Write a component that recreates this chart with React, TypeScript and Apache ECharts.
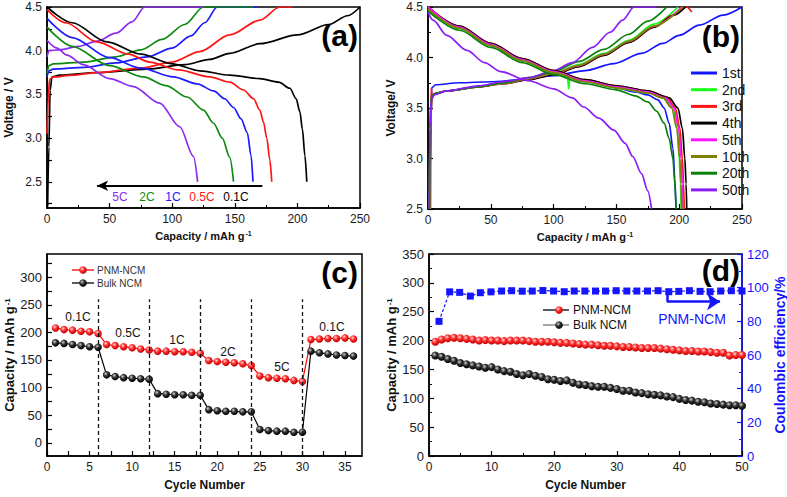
import React, { useEffect, useRef } from 'react';
import * as echarts from 'echarts';

const NARROW = '"Liberation Sans Narrow", "Arial Narrow", "Liberation Sans", Arial, sans-serif';
const SANS = '"Liberation Sans", Arial, Helvetica, sans-serif';

// ---------------- Panel (a): rate charge/discharge profiles ----------------
const aRateNames = ['0.1C', '0.5C', '1C', '2C', '5C'];
const aColors = ['#000000', '#ff1414', '#1a1aff', '#0f8a0f', '#8c2cf0'];
const aCharge01 = [[0.5, 2.22], [1.5, 2.9], [2.5, 3.55], [4, 3.7], [10, 3.72], [40, 3.75], [80, 3.79], [110, 3.84], [130, 3.9], [146, 3.97], [170, 4.08], [200, 4.18], [225, 4.3], [240, 4.4], [250, 4.5]];
const aCharge05 = [[0, 3.05], [1, 3.45], [2, 3.67], [5, 3.7], [20, 3.72], [40, 3.75], [75, 3.8], [100, 3.87], [122, 3.99], [146, 4.18], [170, 4.35], [186, 4.5], [196, 4.5]];
const aCharge1 = [[0, 3.7], [1.5, 3.77], [5, 3.79], [30, 3.81], [55, 3.86], [80, 3.93], [100, 4.03], [115, 4.17], [126, 4.32], [136, 4.5], [168, 4.5]];
const aCharge2 = [[0, 3.74], [1.5, 3.83], [5, 3.85], [30, 3.87], [55, 3.93], [75, 4.01], [92, 4.13], [110, 4.3], [125, 4.5], [165, 4.5]];
const aCharge5 = [[0, 3.93], [1.5, 4.0], [10, 4.01], [25, 4.05], [40, 4.11], [55, 4.2], [68, 4.33], [78, 4.5], [125, 4.5]];
const aDis01 = [[0, 4.5], [20, 4.32], [48, 4.1], [75, 3.96], [100, 3.85], [122, 3.77], [146, 3.72], [170, 3.68], [185, 3.64], [194, 3.57], [199, 3.45], [202, 3.3], [204, 3.1], [206, 2.8], [207.5, 2.5]];
const aDis05 = [[0, 4.47], [15, 4.32], [40, 4.1], [65, 3.96], [82, 3.87], [105, 3.78], [130, 3.7], [146, 3.64], [157, 3.55], [165, 3.45], [170, 3.32], [173, 3.18], [175.5, 3.0], [178, 2.75], [179.5, 2.5]];
const aDis1 = [[0, 4.37], [20, 4.15], [50, 3.92], [75, 3.8], [101, 3.7], [120, 3.62], [133, 3.54], [142, 3.45], [149, 3.35], [155, 3.22], [160, 3.06], [163, 2.8], [164.5, 2.5]];
const aDis2 = [[0, 4.27], [20, 4.05], [50, 3.83], [77, 3.7], [95, 3.6], [112, 3.47], [125, 3.32], [133, 3.17], [140, 3.0], [146, 2.78], [149, 2.5]];
const aDis5 = [[0, 4.12], [8, 4.03], [16, 3.95], [29, 3.84], [50, 3.68], [69, 3.59], [90, 3.4], [106, 3.13], [117, 2.79], [120.3, 2.5]];
const aCharge = [aCharge01, aCharge05, aCharge1, aCharge2, aCharge5];
const aDischarge = [aDis01, aDis05, aDis1, aDis2, aDis5];
const aArrowFrom = [172, 2.455];
const aArrowTo = [40, 2.455];
const aYLabels = [2.5, 3.0, 3.5, 4.0, 4.5];

// ---------------- Panel (b): cycling profiles ----------------
const bCycleNames = ['1st', '2nd', '3rd', '4th', '5th', '10th', '20th', '50th'];
const bColors = ['#1414ff', '#14ff14', '#ff1414', '#000000', '#ff14ff', '#808000', '#0a800a', '#8a1cf5'];
const bCh1 = [[1.5, 2.5], [2, 3.2], [3, 3.7], [6, 3.73], [25, 3.75], [50, 3.76], [75, 3.78], [100, 3.82], [125, 3.87], [148, 3.94], [170, 4.04], [187, 4.14], [200, 4.22], [216, 4.32], [235, 4.42], [250, 4.5]];
const bCh2 = [[1, 2.5], [1.5, 3.2], [2.5, 3.6], [5, 3.64], [15, 3.67], [40, 3.71], [60, 3.75], [80, 3.79], [100, 3.84], [120, 3.93], [140, 4.04], [160, 4.17], [180, 4.33], [199, 4.5]];
const bCh3 = [[2, 2.5], [2.3, 3.3], [2.6, 3.7], [3, 3.62], [5, 3.64], [15, 3.67], [40, 3.71], [60, 3.74], [80, 3.78], [100, 3.83], [120, 3.91], [140, 4.02], [160, 4.15], [180, 4.3], [195, 4.42], [206, 4.5], [210, 4.45]];
const bCh4 = [[1.5, 2.5], [2, 3.3], [3, 3.6], [5, 3.64], [15, 3.67], [40, 3.71], [60, 3.74], [80, 3.78], [100, 3.83], [120, 3.91], [140, 4.02], [160, 4.15], [180, 4.3], [196, 4.42], [205, 4.5]];
const bCh5 = [[1.5, 2.5], [2, 3.3], [3, 3.6], [5, 3.64], [15, 3.67], [40, 3.71], [60, 3.74], [80, 3.79], [100, 3.84], [120, 3.92], [140, 4.03], [160, 4.16], [180, 4.31], [202, 4.5]];
const bCh10 = [[1.5, 2.5], [2, 3.3], [3, 3.6], [5, 3.64], [15, 3.67], [40, 3.71], [60, 3.74], [80, 3.79], [100, 3.84], [120, 3.92], [140, 4.03], [160, 4.16], [180, 4.31], [203, 4.5]];
const bCh20 = [[1, 2.5], [1.5, 3.3], [2.5, 3.6], [5, 3.64], [15, 3.67], [40, 3.71], [60, 3.75], [80, 3.8], [100, 3.86], [120, 3.96], [140, 4.08], [160, 4.23], [175, 4.36], [190, 4.5]];
const bCh50 = [[1, 2.5], [1.5, 3.3], [2.5, 3.58], [5, 3.63], [15, 3.67], [40, 3.72], [60, 3.76], [80, 3.8], [100, 3.87], [115, 3.95], [131, 4.1], [145, 4.25], [155, 4.37], [164, 4.5], [182, 4.5]];
const bDis1 = [[0, 4.49], [25, 4.29], [50, 4.12], [75, 3.97], [100, 3.85], [125, 3.76], [150, 3.7], [165, 3.66], [175, 3.63], [183, 3.58], [188, 3.5], [192, 3.35], [195, 3.1], [196.5, 2.8], [197.5, 2.5]];
const bDis2 = [[0, 4.47], [25, 4.29], [50, 4.12], [75, 3.97], [100, 3.85], [111, 3.81], [112, 3.69], [113, 3.8], [125, 3.76], [150, 3.7], [175, 3.65], [188, 3.6], [195, 3.5], [198.5, 3.3], [200, 3.0], [201, 2.75], [201.5, 2.5]];
const bDis3 = [[0, 4.5], [25, 4.31], [50, 4.14], [75, 3.99], [100, 3.87], [125, 3.78], [150, 3.72], [175, 3.67], [190, 3.61], [197, 3.5], [200.5, 3.3], [202.5, 3.0], [203.5, 2.75], [204, 2.5]];
const bDis4 = [[0, 4.5], [25, 4.31], [50, 4.14], [75, 3.99], [100, 3.87], [125, 3.78], [150, 3.72], [175, 3.67], [192, 3.6], [199, 3.5], [202.5, 3.3], [204.5, 3.0], [205.5, 2.75], [206, 2.5]];
const bDis5 = [[0, 4.5], [25, 4.3], [50, 4.13], [75, 3.98], [100, 3.86], [125, 3.77], [150, 3.71], [175, 3.66], [189, 3.6], [196, 3.5], [199.5, 3.3], [201.5, 3.0], [202.5, 2.75], [203, 2.5]];
const bDis10 = [[0, 4.48], [25, 4.29], [50, 4.12], [75, 3.97], [100, 3.85], [125, 3.76], [150, 3.7], [175, 3.65], [187, 3.6], [194, 3.5], [198, 3.3], [200.5, 3.0], [201.5, 2.75], [202, 2.5]];
const bDis20 = [[0, 4.46], [25, 4.27], [50, 4.1], [75, 3.95], [100, 3.83], [125, 3.74], [150, 3.68], [165, 3.62], [175, 3.56], [182, 3.47], [188, 3.35], [192, 3.2], [195, 3.0], [196.5, 2.75], [197.5, 2.5]];
const bDis50 = [[0, 4.45], [4, 4.37], [15, 4.22], [31, 4.07], [45, 3.95], [58, 3.86], [80, 3.77], [100, 3.69], [115, 3.6], [124, 3.51], [136, 3.4], [148, 3.28], [157, 3.15], [163, 3.02], [170, 2.85], [175, 2.68], [178, 2.5]];
const bCharge = [bCh1, bCh2, bCh3, bCh4, bCh5, bCh10, bCh20, bCh50];
const bDischarge = [bDis1, bDis2, bDis3, bDis4, bDis5, bDis10, bDis20, bDis50];

// ---------------- Panel (c): rate capability ----------------
const cCycles = [1, 2, 3, 4, 5, 6, 7, 8, 9, 10, 11, 12, 13, 14, 15, 16, 17, 18, 19, 20, 21, 22, 23, 24, 25, 26, 27, 28, 29, 30, 31, 32, 33, 34, 35, 36];
const cPNM = [208, 205, 204, 202, 201, 198, 178, 176, 174, 172, 170, 168, 166, 166, 165, 165, 164, 162, 149, 147, 146, 145, 143, 140, 121, 118, 117, 116, 113, 111, 187, 188, 189, 189, 190, 188];
const cBulk = [181, 180, 178, 176, 174, 173, 123, 120, 118, 117, 116, 115, 89, 88, 87, 87, 86, 86, 60, 58, 57, 57, 56, 56, 24, 22, 21, 21, 19, 19, 166, 163, 161, 159, 158, 157];
const cBoundaries = [6, 12, 18, 24, 30];
const cRateLabels = ['0.1C', '0.5C', '1C', '2C', '5C', '0.1C'];
const cYLabels = [0, 50, 100, 150, 200, 250, 300];
const cXLabels = [0, 5, 10, 15, 20, 25, 30, 35];

// ---------------- Panel (d): cycling stability ----------------
const dCycles = Array.from({ length: 50 }, (_, i) => i + 1);
const dPNM = [198, 202, 204, 205, 204, 203, 202, 200, 201, 200, 200, 199, 200, 200, 200, 199, 198, 198, 198, 197, 196, 196, 195, 194, 193, 193, 192, 191, 191, 190, 189, 189, 188, 187, 187, 187, 186, 185, 184, 183, 182, 182, 181, 181, 180, 179, 179, 174, 175, 175];
const dBulk = [174, 172, 168, 165, 161, 159, 157, 155, 153, 154, 150, 147, 146, 142, 140, 142, 139, 137, 133, 132, 130, 131, 127, 124, 123, 121, 120, 120, 118, 116, 113, 113, 110, 109, 107, 106, 105, 103, 102, 99, 97, 96, 94, 93, 91, 90, 89, 88, 88, 87];
const dEffX = [1.6, 3.3, 4.9, 6.6, 8.2, 9.9, 11.6, 13.2, 14.9, 16.5, 18.2, 19.9, 21.6, 23.2, 24.9, 26.6, 28.2, 29.9, 31.6, 33.2, 34.9, 36.6, 38.3, 39.9, 41.6, 43.3, 44.9, 46.6, 48.3, 50];
const dEff = [80, 97.5, 97.2, 95, 97, 97.5, 98, 98.2, 97.9, 98, 98.3, 98, 97.6, 98, 98, 98, 98, 98.2, 98, 98, 98, 98.2, 97.6, 97.8, 98.2, 97.8, 97.6, 98, 98.2, 98];
const dArrow = [[38, 97.6], [38, 91.7], [46.5, 91.7]];

const seriesNames = ['PNM-NCM', 'Bulk NCM'];

// ---------------- styling helpers ----------------
const redBall = {
  type: 'radial', x: 0.38, y: 0.35, r: 0.65,
  colorStops: [{ offset: 0, color: '#ffd8d8' }, { offset: 0.45, color: '#ff3030' }, { offset: 1, color: '#c00000' }],
};
const blackBall = {
  type: 'radial', x: 0.38, y: 0.35, r: 0.65,
  colorStops: [{ offset: 0, color: '#d0d0d0' }, { offset: 0.45, color: '#333333' }, { offset: 1, color: '#000000' }],
};

function nameStyle(size: number, family: string, color = '#111') {
  return {
    fontWeight: 'bold', fontSize: size, fontFamily: family, color,
    rich: { sup: { fontSize: Math.round(size * 0.62), fontWeight: 'bold', fontFamily: family, color, verticalAlign: 'top', padding: [0, 0, 0, 1] } },
  };
}

function axis(o: any) {
  const color = o.color || '#000';
  const ax: any = {
    type: 'value',
    gridIndex: o.grid,
    min: o.min,
    max: o.max,
    position: o.position,
    axisLine: { show: true, onZero: false, lineStyle: { color, width: 1.5 } },
    axisTick: { show: true, inside: true, length: 5, lineStyle: { color, width: 1.2 } },
    axisLabel: { color: o.labelColor || '#1a1a1a', fontSize: o.fs, fontFamily: NARROW, margin: 5, showMinLabel: true, showMaxLabel: true },
    splitLine: { show: false },
    name: o.name,
    nameLocation: 'middle',
    nameGap: o.gap,
    nameTextStyle: nameStyle(o.nameSize, o.nameFamily, o.labelColor || '#111'),
  };
  if (o.decimals != null) {
    ax.axisLabel.formatter = (v: number) => v.toFixed(o.decimals);
  }
  if (o.interval != null) {
    ax.interval = o.interval;
    ax.minorTick = { show: true, splitNumber: 2, length: 3, lineStyle: { color, width: 1 } };
  }
  if (o.labels) {
    ax.axisLabel.customValues = o.labels;
    ax.axisTick.customValues = o.ticks || o.labels;
  }
  return ax;
}

function curve(xi: number, data: number[][], color: string, name?: string, extra: any = {}) {
  return {
    type: 'line', name, xAxisIndex: xi, yAxisIndex: xi,
    data, symbol: 'none', smooth: 0.3, smoothMonotone: 'x',
    lineStyle: { color, width: 1.7 }, itemStyle: { color },
    silent: true, z: 2,
    ...extra,
  };
}

function text(str: string, x: number, y: number, size: number, color = '#111', align = 'center', weight = 'normal', family = NARROW) {
  return {
    type: 'text', x, y, silent: true, z: 50,
    style: { text: str, fill: color, fontSize: size, fontWeight: weight, fontFamily: family, align, verticalAlign: 'middle' },
  };
}

function buildOption() {
  const series: any[] = [];

  // (a)
  aCharge.forEach((d, i) => {
    const extra: any = {};
    if (i === 0) {
      extra.markLine = {
        silent: true, symbol: ['none', 'none'], label: { show: false },
        lineStyle: { color: '#000', width: 2, type: 'solid' },
        data: [[{ coord: aArrowFrom }, { coord: aArrowTo, symbol: 'arrow', symbolSize: [8, 11] }]],
      };
    }
    series.push(curve(0, d, aColors[i], undefined, extra));
  });
  aDischarge.forEach((d, i) => series.push(curve(0, d, aColors[i])));

  // (b)
  bCharge.forEach((d, i) => series.push(curve(1, d, bColors[i], bCycleNames[i])));
  bDischarge.forEach((d, i) => series.push(curve(1, d, bColors[i], bCycleNames[i])));

  // (c)
  series.push({
    type: 'line', name: seriesNames[1], xAxisIndex: 2, yAxisIndex: 2, silent: true,
    data: cCycles.map((c, i) => [c, cBulk[i]]),
    symbol: 'circle', symbolSize: 7.5, itemStyle: { color: blackBall }, lineStyle: { color: '#000', width: 1.2 },
    markLine: {
      silent: true, symbol: ['none', 'none'], label: { show: false },
      lineStyle: { color: '#111', width: 1.3, type: [4, 3] },
      data: cBoundaries.map((b) => [{ coord: [b, -24] }, { coord: [b, 260] }]),
    },
  });
  series.push({
    type: 'line', name: seriesNames[0], xAxisIndex: 2, yAxisIndex: 2, silent: true,
    data: cCycles.map((c, i) => [c, cPNM[i]]),
    symbol: 'circle', symbolSize: 7.5, itemStyle: { color: redBall }, lineStyle: { color: '#ff0000', width: 1.2 },
  });

  // (d)
  series.push({
    type: 'line', name: seriesNames[0], xAxisIndex: 3, yAxisIndex: 3, silent: true,
    data: dCycles.map((c, i) => [c, dPNM[i]]),
    symbol: 'circle', symbolSize: 8, itemStyle: { color: redBall }, lineStyle: { color: '#d00000', width: 1 },
  });
  series.push({
    type: 'line', name: seriesNames[1], xAxisIndex: 3, yAxisIndex: 3, silent: true,
    data: dCycles.map((c, i) => [c, dBulk[i]]),
    symbol: 'circle', symbolSize: 8, itemStyle: { color: blackBall }, lineStyle: { color: '#000', width: 1 },
  });
  series.push({
    type: 'line', name: 'Coulombic efficiency', xAxisIndex: 3, yAxisIndex: 4, silent: true,
    data: dEffX.map((x, i) => [x, dEff[i]]),
    symbol: 'rect', symbolSize: 7, itemStyle: { color: '#1414ff' }, lineStyle: { color: '#1414ff', width: 1.2, type: [3, 2] },
    markLine: {
      silent: true, symbol: ['none', 'none'], label: { show: false },
      lineStyle: { color: '#1414ff', width: 2.5, type: 'solid' },
      data: [
        [{ coord: dArrow[0] }, { coord: dArrow[1] }],
        [{ coord: dArrow[1] }, { coord: dArrow[2], symbol: 'arrow', symbolSize: 13 }],
      ],
    },
  });

  const grid = (left: number, top: number, width: number, height: number) => ({
    left, top, width, height, show: true, borderColor: '#000', borderWidth: 1.5,
    backgroundColor: 'transparent', containLabel: false, outerBoundsMode: 'none',
  });

  const capName = 'Capacity / mAh g{sup|-1}';

  const graphic: any[] = [
    text('(a)', 358, 35, 30, '#000', 'right', 'bold', SANS),
    text('(b)', 740, 36, 30, '#000', 'right', 'bold', SANS),
    text('(c)', 358, 272, 30, '#000', 'right', 'bold', SANS),
    text('(d)', 740, 270, 30, '#000', 'right', 'bold', SANS),
  ];
  // (a) rate labels under the arrow
  const aLabelX = [236, 202, 173, 147, 120];
  aRateNames.forEach((n, i) => graphic.push(text(n, aLabelX[i], 197, 12, aColors[i])));
  // (c) rate labels
  const cLabelPos = [[78, 317], [128, 333], [177, 340], [228, 352], [282, 367], [332, 327]];
  cRateLabels.forEach((n, i) => graphic.push(text(n, cLabelPos[i][0], cLabelPos[i][1], 12, '#111')));
  // (c) legend
  [[270, '#ff0000', redBall], [283, '#000000', blackBall]].forEach((row: any, i) => {
    graphic.push({ type: 'line', silent: true, z: 50, shape: { x1: 72, y1: row[0], x2: 94, y2: row[0] }, style: { stroke: row[1], lineWidth: 1.3 } });
    graphic.push({ type: 'circle', silent: true, z: 51, shape: { cx: 83, cy: row[0], r: 3.8 }, style: { fill: row[2] } });
    graphic.push(text(seriesNames[i], 97, row[0], 10, '#333', 'left'));
  });
  // (d) legend
  [[310, '#000000', redBall], [325, '#777777', blackBall]].forEach((row: any, i) => {
    graphic.push({ type: 'line', silent: true, z: 50, shape: { x1: 543, y1: row[0], x2: 569, y2: row[0] }, style: { stroke: row[1], lineWidth: 1.3 } });
    graphic.push({ type: 'circle', silent: true, z: 51, shape: { cx: 559, cy: row[0], r: 3.8 }, style: { fill: row[2] } });
    graphic.push(text(seriesNames[i], 573, row[0], 12, '#111', 'left'));
  });
  graphic.push(text(seriesNames[0], 692, 319, 14, '#1414ff'));

  return {
    animation: false,
    backgroundColor: '#ffffff',
    grid: [grid(47, 7, 313, 201), grid(428, 7, 314, 202), grid(47, 254, 315, 202), grid(429, 254, 313, 202)],
    xAxis: [
      axis({ grid: 0, min: 0, max: 250, interval: 50, fs: 12, name: capName, gap: 22, nameSize: 11, nameFamily: NARROW }),
      axis({ grid: 1, min: 0, max: 250, interval: 50, fs: 12, name: capName, gap: 22, nameSize: 11, nameFamily: NARROW }),
      axis({ grid: 2, min: 0, max: 37, labels: cXLabels, ticks: [0, 2.5, 5, 7.5, 10, 12.5, 15, 17.5, 20, 22.5, 25, 27.5, 30, 32.5, 35], fs: 12, name: 'Cycle Number', gap: 23, nameSize: 12, nameFamily: NARROW }),
      axis({ grid: 3, min: 0, max: 50, interval: 10, fs: 12, name: 'Cycle Number', gap: 23, nameSize: 12, nameFamily: NARROW }),
    ],
    yAxis: [
      axis({ grid: 0, min: 2.2, max: 4.5, labels: aYLabels, decimals: 1, ticks: [2.25, 2.5, 2.75, 3, 3.25, 3.5, 3.75, 4, 4.25, 4.5], fs: 12, name: 'Voltage / V', gap: 32, nameSize: 12, nameFamily: SANS }),
      axis({ grid: 1, min: 2.5, max: 4.5, interval: 0.5, decimals: 1, fs: 12, name: 'Voltage/ V', gap: 31, nameSize: 12, nameFamily: SANS }),
      axis({ grid: 2, min: -24, max: 342, labels: cYLabels, ticks: [0, 25, 50, 75, 100, 125, 150, 175, 200, 225, 250, 275, 300, 325], fs: 13, name: capName, gap: 28, nameSize: 13, nameFamily: SANS }),
      axis({ grid: 3, min: 0, max: 350, interval: 50, fs: 13, name: capName, gap: 29, nameSize: 13, nameFamily: SANS }),
      axis({ grid: 3, min: 0, max: 120, interval: 20, position: 'right', color: '#1414ff', labelColor: '#1414ff', fs: 13, name: 'Coulombic efficiency/%', gap: 23, nameSize: 14, nameFamily: SANS }),
    ],
    legend: [{
      data: bCycleNames, orient: 'vertical', left: 686, top: 61, itemWidth: 26, itemHeight: 3, itemGap: 2.7,
      selectedMode: false, icon: 'rect',
      textStyle: { fontSize: 14, lineHeight: 14, fontFamily: NARROW, color: '#111' },
    }],
    graphic,
    series,
  };
}

export default function App() {
  const ref = useRef<HTMLDivElement>(null);
  useEffect(() => {
    const chart = echarts.init(ref.current as HTMLDivElement, null, { renderer: 'svg' });
    chart.setOption(buildOption() as any);
    return () => chart.dispose();
  }, []);
  return <div ref={ref} style={{ position: 'absolute', left: 0, top: 0, width: 787, height: 497, background: '#fff' }} />;
}
